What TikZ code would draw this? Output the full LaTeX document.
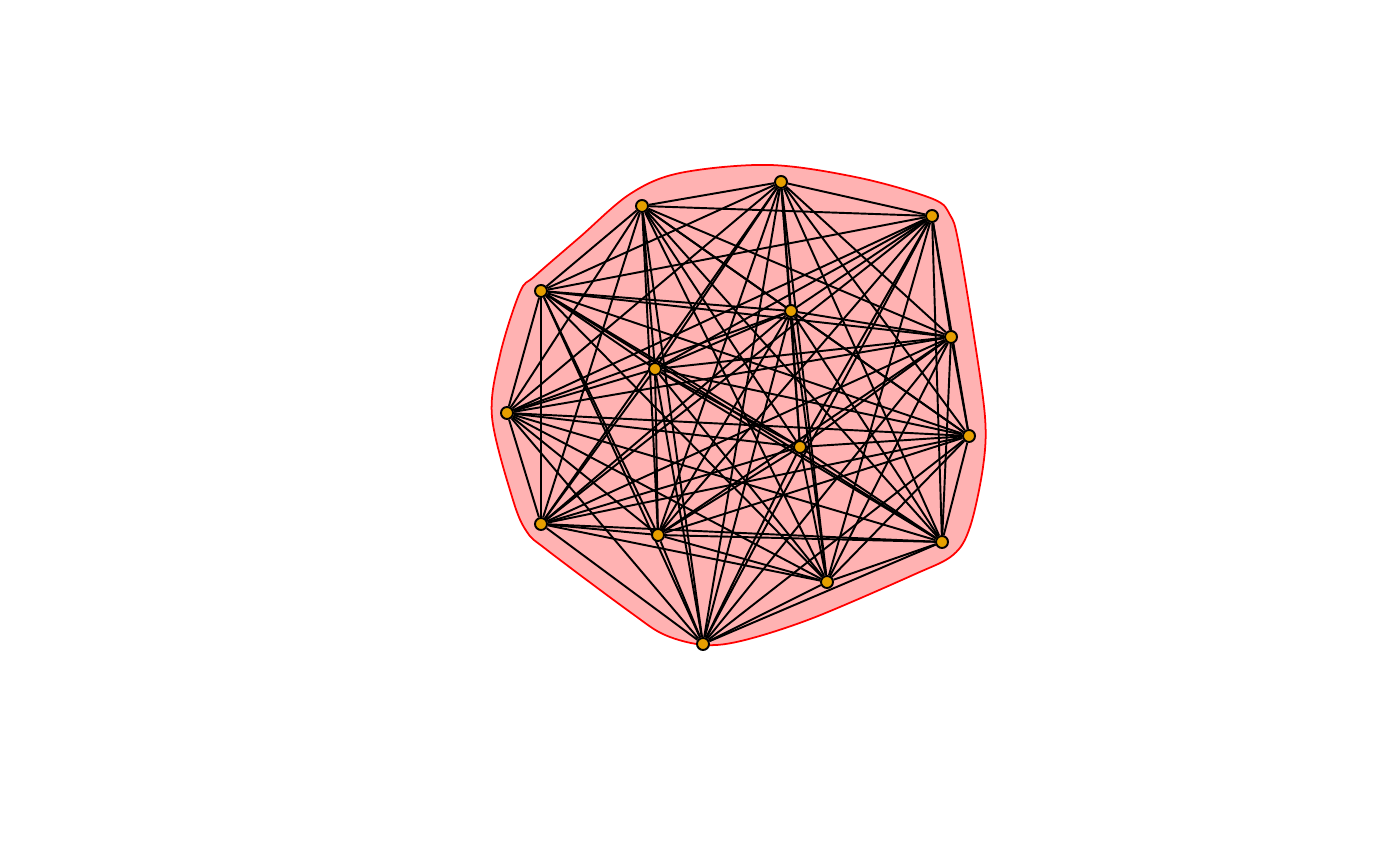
\documentclass[tikz,border=0pt]{standalone}
\usepackage{tikz}
\usetikzlibrary{backgrounds}
\usepackage{xcolor}
\definecolor{vorange}{HTML}{E69F00}

\begin{document}
\begin{tikzpicture}[x=0.01cm, y=-0.01cm,
    vertex/.style={circle, draw=black, fill=vorange, line width=0.55pt, minimum size=1.2mm, inner sep=0pt},
    edge/.style={draw=black, line width=0.55pt},
    hull/.style={draw=red, fill=red!30, line width=0.5pt}]
    \useasboundingbox (0,0) rectangle (1400,865);
    % vertices
    \node[vertex] (v1) at (781,182) {};
    \node[vertex] (v2) at (642,206) {};
    \node[vertex] (v3) at (932,216) {};
    \node[vertex] (v4) at (541,291) {};
    \node[vertex] (v5) at (791,311) {};
    \node[vertex] (v6) at (951,337) {};
    \node[vertex] (v7) at (655,369) {};
    \node[vertex] (v8) at (507,413) {};
    \node[vertex] (v9) at (969,436) {};
    \node[vertex] (v10) at (800,447) {};
    \node[vertex] (v11) at (541,524) {};
    \node[vertex] (v12) at (658,535) {};
    \node[vertex] (v13) at (942,542) {};
    \node[vertex] (v14) at (827,582) {};
    \node[vertex] (v15) at (703,644) {};
    \begin{scope}[on background layer]
        % group hull
        \draw[hull] plot[smooth cycle, tension=0.55] coordinates {
            (770,165) (860,178) (933,199) (950,215) (958,240) (973,330)
            (985,417) (983,467) (970,527) (953,555) (913,575) (813,618)
            (745,640) (705,645) (665,635) (630,612) (547,550) (527,532) (513,500)
            (492,417) (500,355) (520,292) (535,276) (580,237) (630,194) (680,173)};
        % full graph
        \foreach \i in {1,...,14} {
            \pgfmathtruncatemacro\k{\i+1}
            \foreach \j in {\k,...,15}
                \draw[edge] (v\i) -- (v\j);
        }
    \end{scope}
\end{tikzpicture}
\end{document}
